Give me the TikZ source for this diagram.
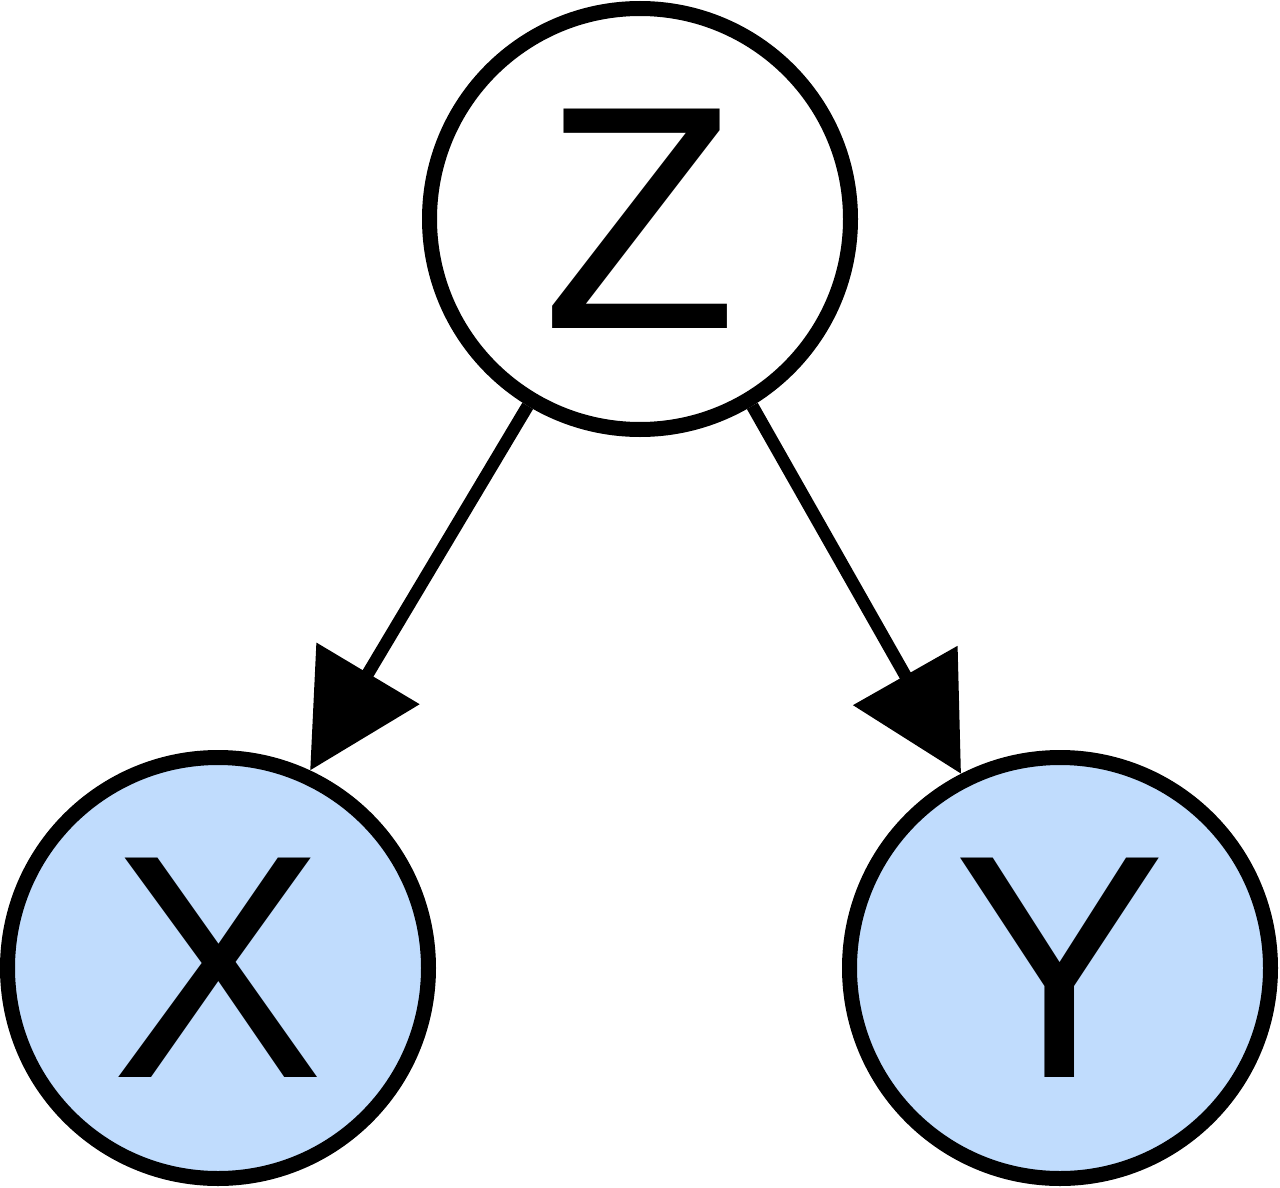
\documentclass[tikz,border=0pt]{standalone}
\usepackage{fontspec}
\setmainfont{Liberation Sans}
\usetikzlibrary{arrows.meta}
\definecolor{nodeblue}{RGB}{192,220,253}
\begin{document}
\begin{tikzpicture}[x=1pt,y=-1pt,
  var/.style={circle,draw=black,line width=15pt,minimum size=421pt,inner sep=0pt,
    font=\fontsize{319}{319}\selectfont,text height=218pt,text depth=0pt},
  obs/.style={var,fill=nodeblue},
  edge/.style={line width=12.5pt,-{Triangle[length=113pt,width=117pt]}}]
\useasboundingbox (0,0) rectangle (1280,1188);
\fill[white] (0,0) rectangle (1280,1188);
\node[var,fill=white] (z) at (640,219) {Z};
\node[obs] (x) at (218,968) {X};
\node[obs] (y) at (1060,968) {Y};
\draw[edge] (z.239) -- (x.65);
\draw[edge] (z.301) -- (y.117);
\end{tikzpicture}
\end{document}
